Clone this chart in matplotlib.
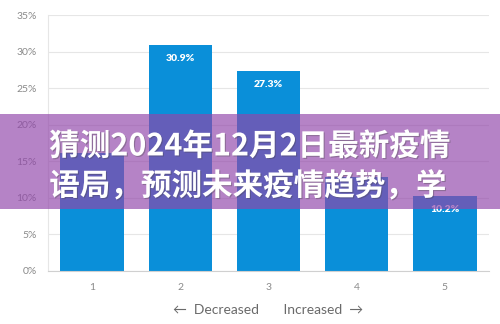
import matplotlib.pyplot as plt
import matplotlib.patheffects as pe
from matplotlib.patches import Rectangle
from matplotlib.ticker import FuncFormatter

# data
groups = [1, 2, 3, 4, 5]
shares = [16.2, 30.9, 27.3, 12.9, 10.2]
# labels on bars 1 and 4 are hidden under the banner text in the reference
bar_labels = ['', '30.9%', '27.3%', '', '10.2%']
banner_lines = ['猜测2024年12月2日最新疫情', '语局，预测未来疫情趋势，学']

plt.rcParams['font.family'] = ['Lato', 'DejaVu Sans']

fig = plt.figure(figsize=(5.0, 3.24), dpi=100)
ax = fig.add_axes([0.096, 0.1636, 0.882, 0.79])

ax.bar(groups, shares, width=0.72, color='#0a8fd9', zorder=2)
for g, s, lab in zip(groups, shares, bar_labels):
    if lab:
        ax.annotate(lab, (g, s), xytext=(0, -9.5), textcoords='offset points',
                    ha='center', va='center', color='white', fontsize=7.5,
                    fontweight='heavy', zorder=3)

ax.set_xlim(0.5, 5.5)
ax.set_ylim(0, 35)
ax.set_yticks(range(0, 36, 5))
ax.yaxis.set_major_formatter(FuncFormatter(lambda v, p: f'{int(v)}%'))
ax.set_xticks(groups)
ax.grid(axis='y', color='#e6e6e6', linewidth=0.8, zorder=0)
for side in ['top', 'right']:
    ax.spines[side].set_visible(False)
ax.spines['left'].set_color('#e6e6e6')
ax.spines['bottom'].set_color('#d0d0d0')
ax.tick_params(axis='y', length=0, pad=8, labelsize=7.5, labelcolor='#8a8a8a')
ax.tick_params(axis='x', length=0, pad=9, labelsize=7.5, labelcolor='#8a8a8a')
ax.set_xlabel('←  Decreased       Increased  →', fontsize=10,
              color='#6a6a6a', labelpad=8)

# purple banner across the middle
fig.add_artist(Rectangle((0, 0.355), 1, 0.293, transform=fig.transFigure,
                         facecolor=(145/255, 70/255, 170/255), alpha=0.67,
                         edgecolor='none', zorder=10))
shadow = [pe.withSimplePatchShadow(offset=(0.8, -0.8), shadow_rgbFace='#444444', alpha=0.35)]
fig.text(0.499, 0.548, banner_lines[0], ha='center', va='center', color='white',
         fontsize=22, fontweight='bold', zorder=11, path_effects=shadow,
         family=['Noto Sans CJK SC', 'DejaVu Sans'])
fig.text(0.495, 0.425, banner_lines[1], ha='center', va='center', color='white',
         fontsize=22, fontweight='bold', zorder=11, path_effects=shadow,
         family=['Noto Sans CJK SC', 'DejaVu Sans'])

fig.savefig('out.png', dpi=100)
